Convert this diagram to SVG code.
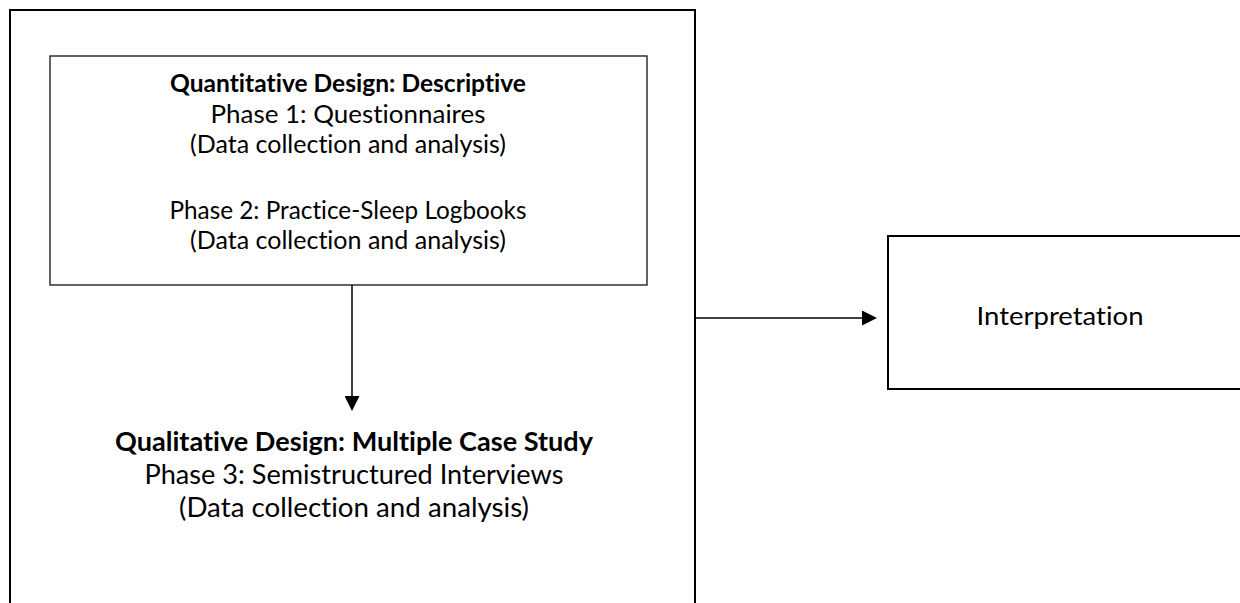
<svg xmlns="http://www.w3.org/2000/svg" width="1240" height="603" viewBox="0 0 1240 603">
<style>
.box{fill:none;stroke:#000;stroke-width:2}
.inner{fill:none;stroke:#222;stroke-width:1.4}
.t{font-family:Lato,"Open Sans","Liberation Sans",sans-serif;fill:#000;text-anchor:middle;font-variant-ligatures:none;font-feature-settings:"liga" 0,"dlig" 0}
.s1{font-size:24.5px}
.s2{font-size:27px}
.s3{font-size:25px}
.b{font-weight:bold}
.conn{stroke:#000;stroke-width:1.5;fill:none}
</style>
<defs>
<marker id="ah" viewBox="0 0 15 15" refX="0" refY="7.5" markerWidth="15" markerHeight="15" markerUnits="userSpaceOnUse" orient="auto">
<path d="M0,0 L15,7.5 L0,15 z" fill="#000"/>
</marker>
</defs>
<rect width="1240" height="603" fill="#fff"/>
<g id="outer">
<rect class="box" x="10" y="10" width="685" height="620"/>
</g>
<g id="quant">
<rect class="inner" x="50" y="56" width="597" height="229"/>
<text class="t s1 b" x="348" y="92" textLength="356" lengthAdjust="spacingAndGlyphs">Quantitative Design: Descriptive</text>
<text class="t s1" x="348" y="122.5" textLength="275" lengthAdjust="spacingAndGlyphs">Phase 1: Questionnaires</text>
<text class="t s1" x="348" y="153" textLength="316" lengthAdjust="spacingAndGlyphs">(Data collection and analysis)</text>
<text class="t s1" x="348" y="219" textLength="357" lengthAdjust="spacingAndGlyphs">Phase 2: Practice-Sleep Logbooks</text>
<text class="t s1" x="348" y="249" textLength="316" lengthAdjust="spacingAndGlyphs">(Data collection and analysis)</text>
</g>
<g id="qual">
<text class="t s2 b" x="354" y="451" textLength="478" lengthAdjust="spacingAndGlyphs">Qualitative Design: Multiple Case Study</text>
<text class="t s2" x="354" y="484" textLength="419" lengthAdjust="spacingAndGlyphs">Phase 3: Semistructured Interviews</text>
<text class="t s2" x="354" y="517" textLength="350" lengthAdjust="spacingAndGlyphs">(Data collection and analysis)</text>
</g>
<g id="interp">
<rect class="box" x="888" y="236" width="400" height="153"/>
<text class="t s3" x="1060" y="325" textLength="167" lengthAdjust="spacingAndGlyphs">Interpretation</text>
</g>
<g id="connectors">
<line class="conn" x1="352" y1="285" x2="352" y2="396" marker-end="url(#ah)"/>
<line class="conn" x1="695" y1="318" x2="862" y2="318" marker-end="url(#ah)"/>
</g>
</svg>
